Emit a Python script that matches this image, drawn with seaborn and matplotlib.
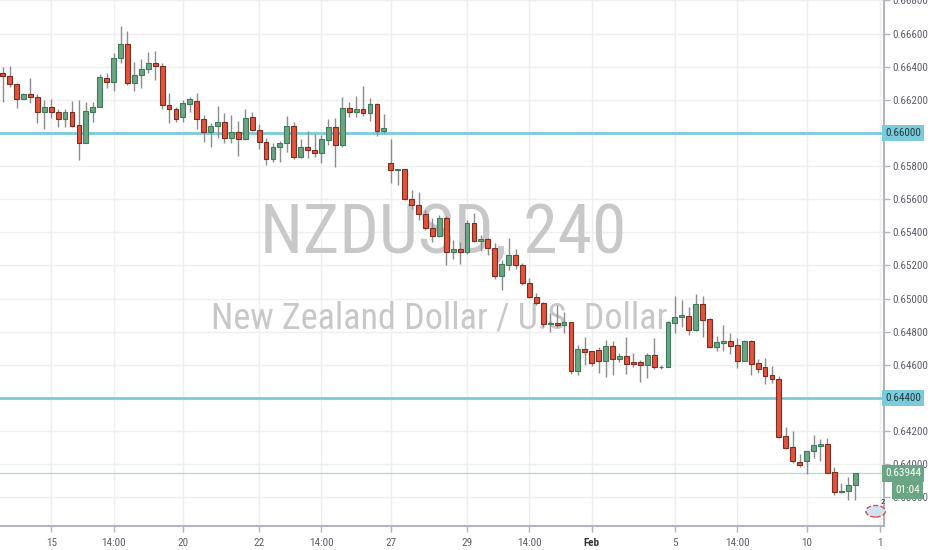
import numpy as np
import pandas as pd
import matplotlib
matplotlib.use("Agg")
import matplotlib.pyplot as plt
from matplotlib import font_manager
from matplotlib.transforms import blended_transform_factory
import seaborn as sns

# ---------------- data (NZDUSD, 4h candles) ----------------
opens = [0.66361, 0.66346, 0.66296, 0.66207, 0.66234, 0.66216, 0.66127, 0.66155, 0.66127, 0.66083,
         0.66127, 0.66046, 0.65941, 0.66129, 0.66159, 0.66334, 0.66308, 0.66451, 0.66536, 0.66304,
         0.66350, 0.66387, 0.66421, 0.66405, 0.66169, 0.66143, 0.66095, 0.66175, 0.66195, 0.66085,
         0.66008, 0.66040, 0.66068, 0.65972, 0.66006, 0.65966, 0.66095, 0.66018, 0.65947, 0.65841,
         0.65914, 0.65938, 0.66042, 0.65853, 0.65914, 0.65900, 0.65877, 0.65960, 0.66034, 0.65926,
         0.66149, 0.66129, 0.66145, 0.66119, 0.66173, 0.66014, 0.65817, 0.65778, 0.65784, 0.65601,
         0.65563, 0.65509, 0.65428, 0.65378, 0.65488, 0.65283, 0.65298, 0.65279, 0.65455, 0.65348,
         0.65358, 0.65304, 0.65136, 0.65205, 0.65265, 0.65203, 0.65092, 0.65011, 0.64971, 0.64845,
         0.64851, 0.64840, 0.64857, 0.64562, 0.64694, 0.64681, 0.64687, 0.64623, 0.64713, 0.64633,
         0.64653, 0.64617, 0.64615, 0.64597, 0.64659, 0.64585, 0.64588, 0.64855, 0.64887, 0.64895,
         0.64810, 0.64967, 0.64877, 0.64709, 0.64730, 0.64742, 0.64720, 0.64625, 0.64746, 0.64609,
         0.64585, 0.64538, 0.64514, 0.64170, 0.64105, 0.64015, 0.64019, 0.64081, 0.64112, 0.64122,
         0.63954, 0.63830, 0.63836, 0.63874]
highs = [0.66400, 0.66405, 0.66300, 0.66240, 0.66334, 0.66236, 0.66199, 0.66204, 0.66143, 0.66145,
         0.66193, 0.66199, 0.66189, 0.66189, 0.66356, 0.66364, 0.66481, 0.66646, 0.66616, 0.66427,
         0.66445, 0.66487, 0.66497, 0.66421, 0.66240, 0.66159, 0.66199, 0.66216, 0.66240, 0.66109,
         0.66059, 0.66163, 0.66123, 0.66109, 0.66074, 0.66147, 0.66129, 0.66054, 0.65968, 0.65938,
         0.65952, 0.66103, 0.66068, 0.65962, 0.66012, 0.65992, 0.65988, 0.66083, 0.66089, 0.66219,
         0.66189, 0.66223, 0.66284, 0.66210, 0.66179, 0.66115, 0.65962, 0.65784, 0.65784, 0.65656,
         0.65645, 0.65535, 0.65485, 0.65505, 0.65499, 0.65354, 0.65343, 0.65475, 0.65515, 0.65384,
         0.65364, 0.65334, 0.65233, 0.65364, 0.65298, 0.65215, 0.65122, 0.65032, 0.64981, 0.64911,
         0.64961, 0.64919, 0.64860, 0.64720, 0.64770, 0.64685, 0.64707, 0.64750, 0.64744, 0.64669,
         0.64766, 0.64673, 0.64629, 0.64669, 0.64760, 0.64600, 0.64862, 0.65015, 0.64991, 0.64951,
         0.65028, 0.65015, 0.64883, 0.64774, 0.64840, 0.64790, 0.64760, 0.64750, 0.64750, 0.64633,
         0.64639, 0.64593, 0.64532, 0.64222, 0.64202, 0.64061, 0.64081, 0.64176, 0.64150, 0.64156,
         0.63984, 0.63888, 0.63924, 0.63946]
lows = [0.66189, 0.66280, 0.66149, 0.66204, 0.66179, 0.66059, 0.66022, 0.66092, 0.66034, 0.66034,
        0.66034, 0.65837, 0.65938, 0.66066, 0.66155, 0.66274, 0.66254, 0.66425, 0.66290, 0.66254,
        0.66274, 0.66361, 0.66320, 0.66143, 0.66059, 0.66068, 0.66068, 0.66129, 0.66022, 0.65947,
        0.65914, 0.65968, 0.65941, 0.65941, 0.65861, 0.65958, 0.66014, 0.65902, 0.65807, 0.65827,
        0.65827, 0.65887, 0.65841, 0.65850, 0.65847, 0.65853, 0.65821, 0.65928, 0.65796, 0.65914,
        0.66098, 0.66098, 0.66103, 0.66074, 0.65982, 0.65998, 0.65696, 0.65686, 0.65595, 0.65539,
        0.65475, 0.65414, 0.65343, 0.65370, 0.65203, 0.65237, 0.65209, 0.65269, 0.65343, 0.65289,
        0.65263, 0.65116, 0.65052, 0.65173, 0.65177, 0.65082, 0.65002, 0.64961, 0.64830, 0.64800,
        0.64830, 0.64790, 0.64544, 0.64538, 0.64599, 0.64593, 0.64552, 0.64524, 0.64538, 0.64619,
        0.64544, 0.64585, 0.64498, 0.64518, 0.64573, 0.64575, 0.64585, 0.64790, 0.64830, 0.64780,
        0.64806, 0.64770, 0.64705, 0.64683, 0.64685, 0.64665, 0.64579, 0.64623, 0.64538, 0.64549,
        0.64484, 0.64492, 0.64160, 0.64090, 0.64005, 0.63981, 0.63940, 0.64035, 0.64019, 0.63945,
        0.63814, 0.63824, 0.63783, 0.63787]
closes = [0.66346, 0.66296, 0.66204, 0.66236, 0.66216, 0.66125, 0.66155, 0.66127, 0.66083, 0.66127,
          0.66042, 0.65938, 0.66135, 0.66159, 0.66336, 0.66308, 0.66455, 0.66536, 0.66304, 0.66350,
          0.66387, 0.66421, 0.66405, 0.66169, 0.66143, 0.66083, 0.66179, 0.66204, 0.66085, 0.66008,
          0.66042, 0.66068, 0.65972, 0.66008, 0.65966, 0.66089, 0.66018, 0.65947, 0.65841, 0.65917,
          0.65938, 0.66042, 0.65853, 0.65914, 0.65897, 0.65877, 0.65964, 0.66034, 0.65926, 0.66149,
          0.66129, 0.66145, 0.66119, 0.66173, 0.66012, 0.66028, 0.65777, 0.65784, 0.65600, 0.65563,
          0.65509, 0.65428, 0.65378, 0.65488, 0.65283, 0.65298, 0.65279, 0.65455, 0.65348, 0.65358,
          0.65304, 0.65136, 0.65209, 0.65265, 0.65203, 0.65092, 0.65011, 0.64971, 0.64845, 0.64854,
          0.64840, 0.64860, 0.64562, 0.64694, 0.64677, 0.64613, 0.64623, 0.64713, 0.64633, 0.64653,
          0.64605, 0.64605, 0.64599, 0.64659, 0.64585, 0.64590, 0.64860, 0.64887, 0.64901, 0.64810,
          0.64967, 0.64871, 0.64709, 0.64736, 0.64742, 0.64715, 0.64625, 0.64746, 0.64605, 0.64575,
          0.64532, 0.64514, 0.64162, 0.64099, 0.64019, 0.63995, 0.64081, 0.64115, 0.64122, 0.63948,
          0.63830, 0.63840, 0.63874, 0.63944]

level_lines = [0.66000, 0.64400]
last_price = 0.63944
countdown = "01:04"
price_ticks = [0.638, 0.640, 0.642, 0.644, 0.646, 0.648, 0.650, 0.652, 0.654,
               0.656, 0.658, 0.660, 0.662, 0.664, 0.666, 0.668]
time_tick_pos = [7, 16, 26, 37, 46, 56, 67, 76, 85, 97, 106, 116, 126.6]
time_tick_labels = ["15", "14:00", "20", "22", "14:00", "27", "29", "14:00", "Feb", "5", "14:00", "10", "1"]
title_main = "NZDUSD, 240"
title_sub = "New Zealand Dollar / U.S. Dollar"

df = pd.DataFrame({"open": opens, "high": highs, "low": lows, "close": closes})
df["idx"] = np.arange(len(df))
df["up"] = df["close"] >= df["open"]

# ---------------- style ----------------
sns.set_theme(style="white")
names = {f.name for f in font_manager.fontManager.ttflist}
narrow = next((n for n in ["Liberation Sans Narrow", "Roboto Condensed", "DejaVu Sans Condensed", "Liberation Sans"]
               if n in names), "DejaVu Sans")
plt.rcParams["font.family"] = [narrow, "DejaVu Sans"]

UP_FC, UP_EC = "#6ba583", "#3f7a5a"
DN_FC, DN_EC = "#e0533d", "#7a2e22"
WICK = "#8c8c8c"
LEVEL = "#7ccbda"
GRID = "#efefef"
AXIS = "#b2b5be"
TXT = "#5d606b"

fig = plt.figure(figsize=(9.32, 5.5), dpi=100)
ax = fig.add_axes([0, 24 / 550, 884 / 932, 526 / 550])
ax.set_xlim(-0.39, 127.17)
ax.set_ylim(0.63627, 0.66803)

# grid
for y in price_ticks:
    ax.axhline(y, color=GRID, lw=1, zorder=0)
for x in time_tick_pos:
    ax.axvline(x, color=GRID, lw=1, zorder=0)

# watermark
ax.text(443 / 884, 1 - 252.7 / 526, title_main, transform=ax.transAxes,
        ha="center", va="baseline", fontsize=50, color="#c8c8c8", zorder=0.5)
ax.text(439 / 884, 1 - 328.3 / 526, title_sub, transform=ax.transAxes,
        ha="center", va="baseline", fontsize=26, color="#c8c8c8", zorder=0.5)

# level lines
for lv in level_lines:
    ax.axhline(lv, color=LEVEL, lw=2, zorder=1)
ax.axhline(last_price, color="#b9dcc8", lw=1, zorder=1)

# wicks
ax.vlines(df["idx"], df["low"], df["high"], color=WICK, lw=1, zorder=2)
# bodies
body_bottom = np.minimum(df["open"], df["close"])
body_h = np.maximum(np.abs(df["close"] - df["open"]), 0.00004)
ax.bar(df["idx"], body_h, bottom=body_bottom, width=0.7,
       color=np.where(df["up"], UP_FC, DN_FC),
       edgecolor=np.where(df["up"], UP_EC, DN_EC), linewidth=0.8, zorder=3)

# axes styling
for s in ["top", "left"]:
    ax.spines[s].set_visible(False)
for s in ["right", "bottom"]:
    ax.spines[s].set_color(AXIS)
    ax.spines[s].set_linewidth(1.5)
ax.yaxis.tick_right()
ax.set_yticks(price_ticks)
# the level boxes take the place of the scale labels at those prices
ax.set_yticklabels(["" if any(abs(v - lv) < 1e-9 for lv in level_lines) else f"{v:.5f}"
                    for v in price_ticks])
ax.set_xticks(time_tick_pos)
ax.set_xticklabels(time_tick_labels)
ax.tick_params(axis="y", which="both", right=True, length=4, width=1, color=AXIS,
               labelsize=8, labelcolor=TXT, pad=2)
ax.tick_params(axis="x", which="both", bottom=True, length=4, width=1, color=AXIS,
               labelsize=8, labelcolor=TXT, pad=5)
for lab in ax.get_xticklabels():
    if lab.get_text() == "Feb":
        lab.set_fontweight("bold")
        lab.set_color("#333333")

# price labels on the right scale
tr = blended_transform_factory(ax.transAxes, ax.transData)
for lv in level_lines:
    ax.text(1.0015, lv, f"{lv:.5f}", transform=tr, ha="left", va="center", fontsize=8,
            color="#1f3b40", clip_on=False, zorder=6,
            bbox=dict(boxstyle="square,pad=0.28", fc=LEVEL, ec="none"))
ax.text(1.0015, last_price, f"{last_price:.5f}", transform=tr, ha="left", va="center", fontsize=8,
        color="white", clip_on=False, zorder=6,
        bbox=dict(boxstyle="square,pad=0.28", fc=UP_FC, ec="none"))
ax.text(1.0125, last_price - 0.00102, countdown, transform=tr, ha="left", va="center", fontsize=8,
        color="white", clip_on=False, zorder=6,
        bbox=dict(boxstyle="square,pad=0.28", fc=UP_FC, ec="none"))

# small event marker near bottom right
ev = plt.Circle((0.9905, 0.028), 0.011, transform=ax.transAxes, fc="#cfe3f0", ec="#d9534f",
                lw=1, ls="--", zorder=4, clip_on=False)
ax.add_patch(ev)
ax.text(0.9965, 0.042, "2", transform=ax.transAxes, fontsize=6, color="#333333", zorder=5)

fig.savefig("out.png", dpi=100)
